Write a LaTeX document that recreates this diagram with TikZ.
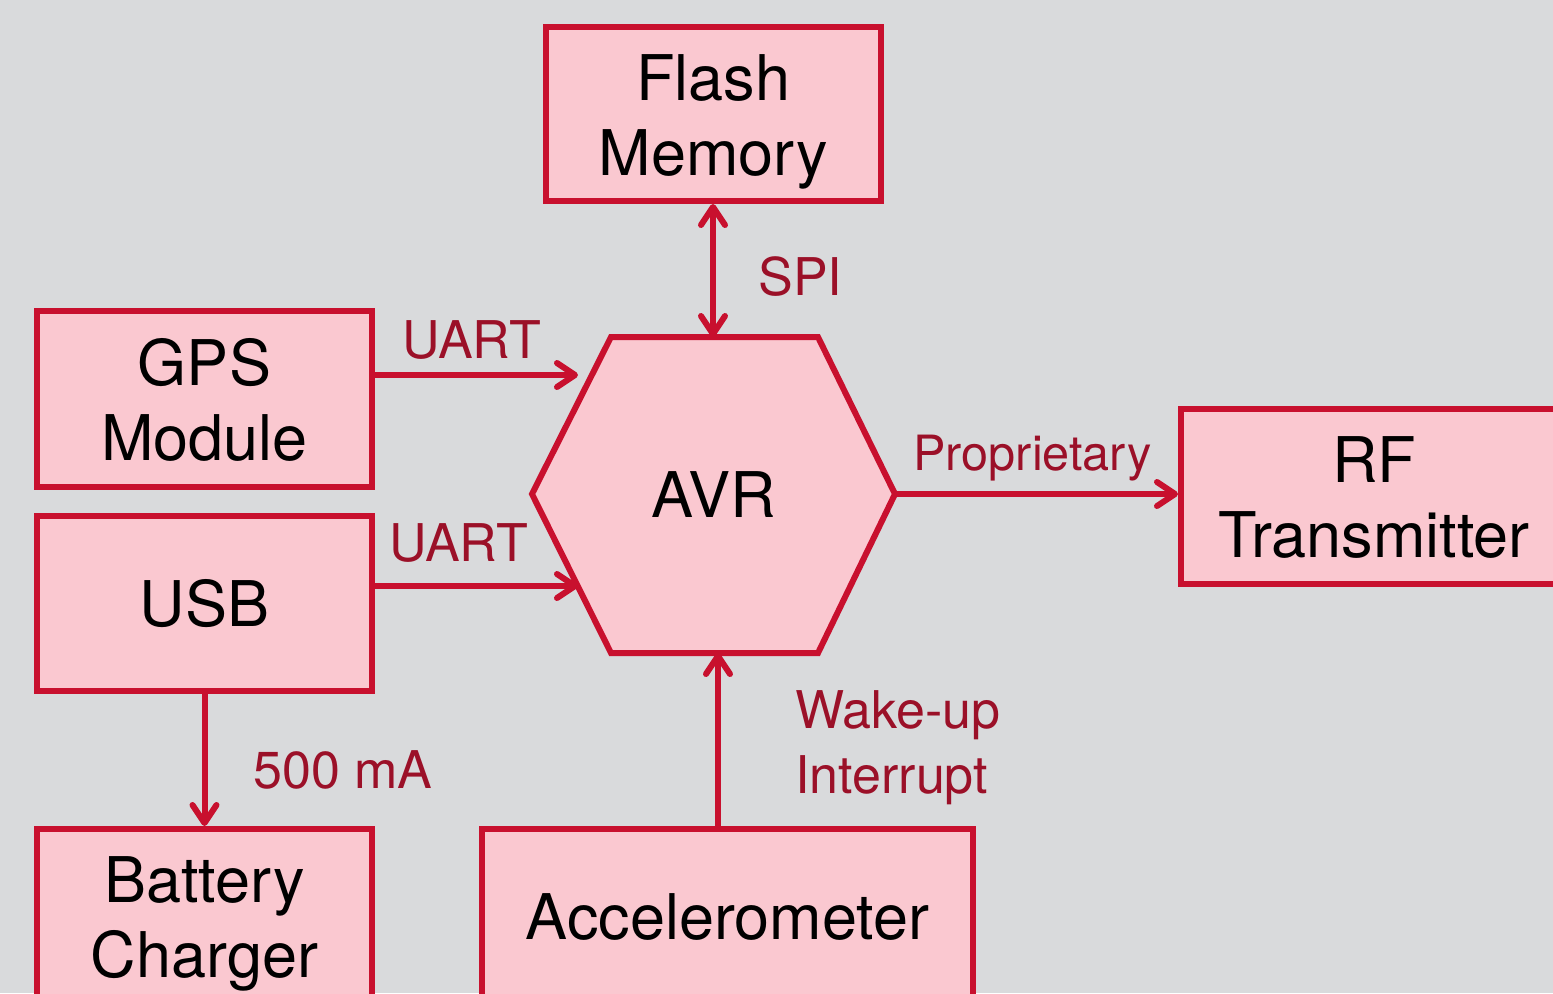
\documentclass[tikz,border=0pt]{standalone}
\usepackage{fontspec}
\setmainfont{TeX Gyre Heros}
\usetikzlibrary{arrows.meta, positioning, shapes.geometric}
\definecolor{pagegray}{HTML}{D9DADC}
\definecolor{blockfill}{HTML}{FAC8D0}
\definecolor{blockline}{HTML}{C8102E}
\definecolor{tagcolor}{HTML}{9B1028}

\begin{document}
\begin{tikzpicture}[x=0.5pt, y=-0.5pt,
  block/.style={draw=blockline, fill=blockfill, line width=3pt, inner sep=0pt,
    align=center, font=\fontsize{31.5}{37.5}\selectfont},
  twoline/.style={text height=62pt, text depth=1pt},
  link/.style={draw=blockline, line width=3pt, line cap=round,
    >={Straight Barb[length=9pt, width=12pt, round]}, ->},
  tag/.style={text=tagcolor, inner sep=0pt, anchor=base west, align=left,
    font=\fontsize{26}{32.5}\selectfont}]
  % page, cut to size
  \fill[pagegray] (0,0) rectangle (1553,993);
  \clip (0,0) rectangle (1553,993);

  % blocks
  \node[block, twoline, minimum width=167.5pt, minimum height=87pt] (flash) at (713.5,114) {Flash\\Memory};
  \node[block, twoline, minimum width=167.5pt, minimum height=88pt] (gps) at (204.5,399) {GPS\\Module};
  \node[block, minimum width=167.5pt, minimum height=87.5pt] (usb) at (204.5,603.5) {USB};
  \node[block, twoline, minimum width=167.5pt, minimum height=87.5pt] (bat) at (204.5,916.5) {Battery\\Charger};
  \node[block, minimum width=245.5pt, minimum height=87.5pt] (acc) at (727.5,916.5) {Accelerometer};
  \node[block, twoline, minimum width=193pt, minimum height=87.5pt] (rf) at (1374,496.5) {RF\\Transmitter};

  % the AVR hexagon
  \draw[blockline, fill=blockfill, line width=3pt, line join=miter]
    (611,337) -- (818,337) -- (895,494) -- (818,653) -- (611,653) -- (532,494) -- cycle;
  \node[font=\fontsize{31.5}{37.5}\selectfont, inner sep=0pt] (avr) at (713.5,495) {AVR};
  \coordinate (avrtop) at (713,337);
  \coordinate (avrright) at (895,494);
  \coordinate (avrbot) at (718,653);

  % connectors
  \coordinate (gpsin) at (578,375);
  \coordinate (usbin) at (578,586);
  \draw[link, <->] (flash.south -| avrtop) -- (avrtop);
  \draw[link] (gps.east |- gpsin) -- (gpsin);
  \draw[link] (usb.east |- usbin) -- (usbin);
  \draw[link] (avrright) -- (avrright -| rf.west);
  \draw[link] (acc.north -| avrbot) -- (avrbot);
  \draw[link] (usb) -- (bat);

  % labels
  \node[tag] (spi) at (758,295) {SPI};
  \node[tag] (uart1) at (402,358) {UART};
  \node[tag] (uart2) at (389,561) {UART};
  \node[tag, font=\fontsize{24.3}{30}\selectfont] (prop) at (913,470) {Proprietary};
  \node[tag] (wake) at (795,793) {Wake-up\\Interrupt};
  \node[tag] (charge) at (253,788) {500 mA};
\end{tikzpicture}
\end{document}
